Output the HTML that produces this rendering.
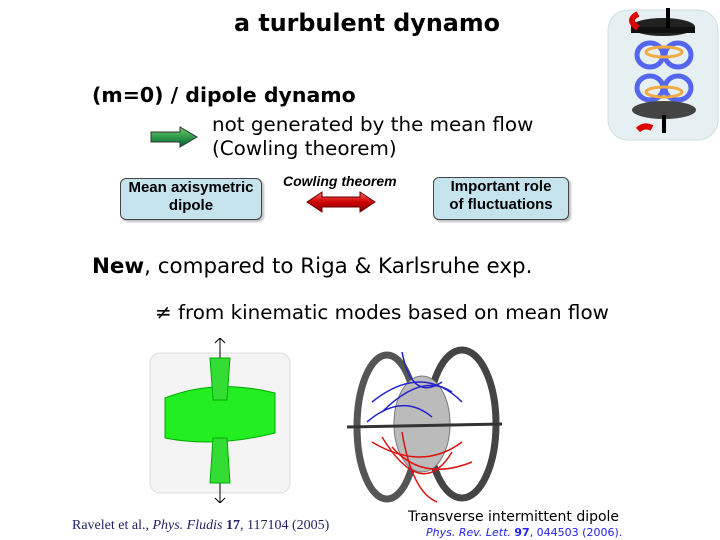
<!DOCTYPE html>
<html><head><style>
body{margin:0;width:720px;height:540px;background:#fff;position:relative;overflow:hidden;font-family:"DejaVu Sans","Liberation Sans",sans-serif}
.t{position:absolute;white-space:nowrap}
.box{position:absolute;background:#c5e3ec;border:1.5px solid #444;border-radius:6px;font:bold 15px "Liberation Sans",sans-serif;text-align:center;line-height:18px;box-shadow:2px 2px 2px #bbb}
</style></head><body>
<div class="t" style="left:234px;top:9px;font-size:23.8px;font-weight:bold">a turbulent dynamo</div>
<div class="t" style="left:92px;top:83px;font-size:20.5px;font-weight:bold">(m=0) / dipole dynamo</div>
<svg style="position:absolute;left:150px;top:126px" width="50" height="22"><defs><linearGradient id="g" x1="0" y1="0" x2="0" y2="1"><stop offset="0" stop-color="#6c6"/><stop offset="1" stop-color="#063"/></linearGradient></defs><polygon points="1,6 30,6 30,1 47,11 30,21 30,16 1,16" fill="url(#g)" stroke="#333"/></svg>
<div class="t" style="left:212px;top:113px;font-size:19.9px;line-height:24px">not generated by the mean flow<br>(Cowling theorem)</div>
<div class="box" style="left:120px;top:178px;width:140px;height:40px">Mean axisymetric<br>dipole</div>
<div class="box" style="left:433px;top:177px;width:134px;height:41px">Important role<br>of fluctuations</div>
<div class="t" style="left:283px;top:173px;font:italic bold 14px 'Liberation Sans',sans-serif">Cowling theorem</div>
<svg style="position:absolute;left:306px;top:190px" width="72" height="24"><defs><linearGradient id="r" x1="0" y1="0" x2="0" y2="1"><stop offset="0" stop-color="#f66"/><stop offset=".5" stop-color="#c00"/><stop offset="1" stop-color="#800"/></linearGradient></defs><polygon points="1,12 16,2 16,7 54,7 54,2 69,12 54,22 54,17 16,17 16,22" fill="url(#r)" stroke="#600"/></svg>
<div class="t" style="left:92px;top:254px;font-size:21.4px"><b>New</b>, compared to Riga &amp; Karlsruhe exp.</div>
<div class="t" style="left:155px;top:301px;font-size:19.9px">≠ from kinematic modes based on mean flow</div>
<svg style="position:absolute;left:598px;top:0" width="122" height="150">
<rect x="10" y="10" width="110" height="130" rx="20" fill="#e6f0f2" stroke="#cfdfe2"/>
<ellipse cx="65" cy="27" rx="32" ry="9" fill="#222"/><rect x="33" y="27" width="64" height="6" fill="#111"/>
<rect x="68" y="8" width="4" height="20" fill="#000"/>
<path d="M40 14 Q28 20 40 28" stroke="#d00" stroke-width="6" fill="none"/>
<ellipse cx="52" cy="55" rx="13" ry="12" fill="none" stroke="#56e" stroke-width="5"/><ellipse cx="80" cy="55" rx="13" ry="12" fill="none" stroke="#56e" stroke-width="5"/>
<ellipse cx="66" cy="52" rx="18" ry="5" fill="none" stroke="#ea4" stroke-width="3"/>
<ellipse cx="52" cy="88" rx="13" ry="12" fill="none" stroke="#56e" stroke-width="5"/><ellipse cx="80" cy="88" rx="13" ry="12" fill="none" stroke="#56e" stroke-width="5"/>
<ellipse cx="66" cy="92" rx="18" ry="5" fill="none" stroke="#ea4" stroke-width="3"/>
<ellipse cx="66" cy="110" rx="32" ry="9" fill="#444"/><rect x="64" y="115" width="4" height="18" fill="#000"/>
<path d="M40 130 Q46 124 54 128" stroke="#d00" stroke-width="6" fill="none"/>
</svg>
<svg style="position:absolute;left:145px;top:338px" width="150" height="165">
<rect x="5" y="15" width="140" height="140" rx="10" fill="#f4f4f4" stroke="#ddd"/>
<line x1="75" y1="0" x2="75" y2="165" stroke="#000"/>
<path d="M20 60 Q70 40 130 55 L130 95 Q70 110 20 100 Z" fill="#2e2" stroke="#0a0"/>
<path d="M65 20 L85 20 L82 62 L68 62 Z M65 145 L85 145 L82 100 L68 100 Z" fill="#3d3" stroke="#0a0"/>
<path d="M70 5 L75 0 L80 5 M70 160 L75 165 L80 160" stroke="#000" fill="none"/>
</svg>
<svg style="position:absolute;left:342px;top:342px" width="165" height="168">
<ellipse cx="45" cy="85" rx="30" ry="72" fill="none" stroke="#555" stroke-width="7"/>
<ellipse cx="120" cy="82" rx="34" ry="74" fill="none" stroke="#444" stroke-width="7"/>
<ellipse cx="80" cy="82" rx="28" ry="48" fill="#bbb" stroke="#777"/>
<line x1="5" y1="85" x2="160" y2="82" stroke="#333" stroke-width="3"/>
<g stroke="#22c" fill="none" stroke-width="1.5"><path d="M30 60 Q80 20 120 60"/><path d="M40 70 Q80 30 110 50"/><path d="M60 10 Q70 60 100 40"/><path d="M25 80 Q60 50 90 75"/></g>
<g stroke="#d11" fill="none" stroke-width="1.5"><path d="M30 100 Q80 130 120 100"/><path d="M40 95 Q80 160 110 110"/><path d="M60 90 Q70 150 95 160"/><path d="M50 105 Q80 140 130 120"/></g>
</svg>
<div class="t" style="left:72px;top:518px;font:14px 'Liberation Serif',serif;color:#226">Ravelet et al., <i>Phys. Fludis</i> <b>17</b>, 117104 (2005)</div>
<div class="t" style="left:408px;top:509px;font-size:14px">Transverse intermittent dipole</div>
<div class="t" style="left:426px;top:526px;font-size:11px;color:#22e"><i>Phys. Rev. Lett.</i> <b>97</b>, 044503 (2006).</div>
</body></html>
